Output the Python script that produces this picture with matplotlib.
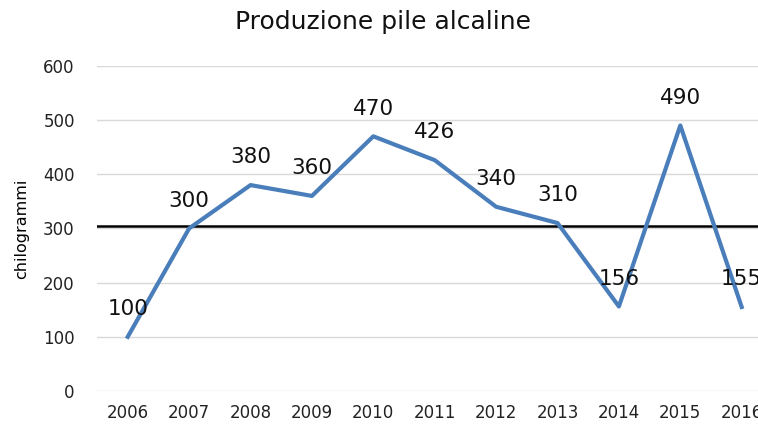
import matplotlib.pyplot as plt

# dati
anni = ['2006', '2007', '2008', '2009', '2010', '2011', '2012', '2013', '2014', '2015', '2016']
chilogrammi = [100, 300, 380, 360, 470, 426, 340, 310, 156, 490, 155]
soglia = 305

plt.rcParams['font.family'] = ['DejaVu Sans']

fig = plt.figure(figsize=(7.58, 4.25), dpi=100)
ax = fig.add_axes([0.128, 0.08, 0.891, 0.765])

x = range(len(anni))
ax.plot(x, chilogrammi, color='#4a7ebb', linewidth=3, solid_joinstyle='round', zorder=3)
ax.axhline(soglia, color='black', linewidth=1.8, zorder=2)

# etichette sopra i punti
for i, v in zip(x, chilogrammi):
    ax.annotate(str(v), (i, v), xytext=(0, 20), textcoords='offset points',
                ha='center', va='center', fontsize=15.5, color='#111111', zorder=4)

ax.set_xlim(-0.5, len(anni) - 0.5)
ax.set_ylim(0, 600)
ax.set_yticks(range(0, 601, 100))
ax.set_xticks(list(x))
ax.set_xticklabels(anni)
ax.tick_params(length=0, labelsize=12, colors='#222222')
ax.tick_params(axis='y', pad=16)
ax.tick_params(axis='x', pad=9)
ax.grid(axis='y', color='#d9d9d9', linewidth=1)
ax.set_axisbelow(True)
for s in ax.spines.values():
    s.set_visible(False)

ax.set_ylabel('chilogrammi', fontsize=11.5)
ax.yaxis.set_label_coords(-0.1, 0.5)
fig.text(0.505, 0.948, 'Produzione pile alcaline', ha='center', va='center',
         fontsize=18, color='#111111')

fig.savefig('out.png', dpi=100)
